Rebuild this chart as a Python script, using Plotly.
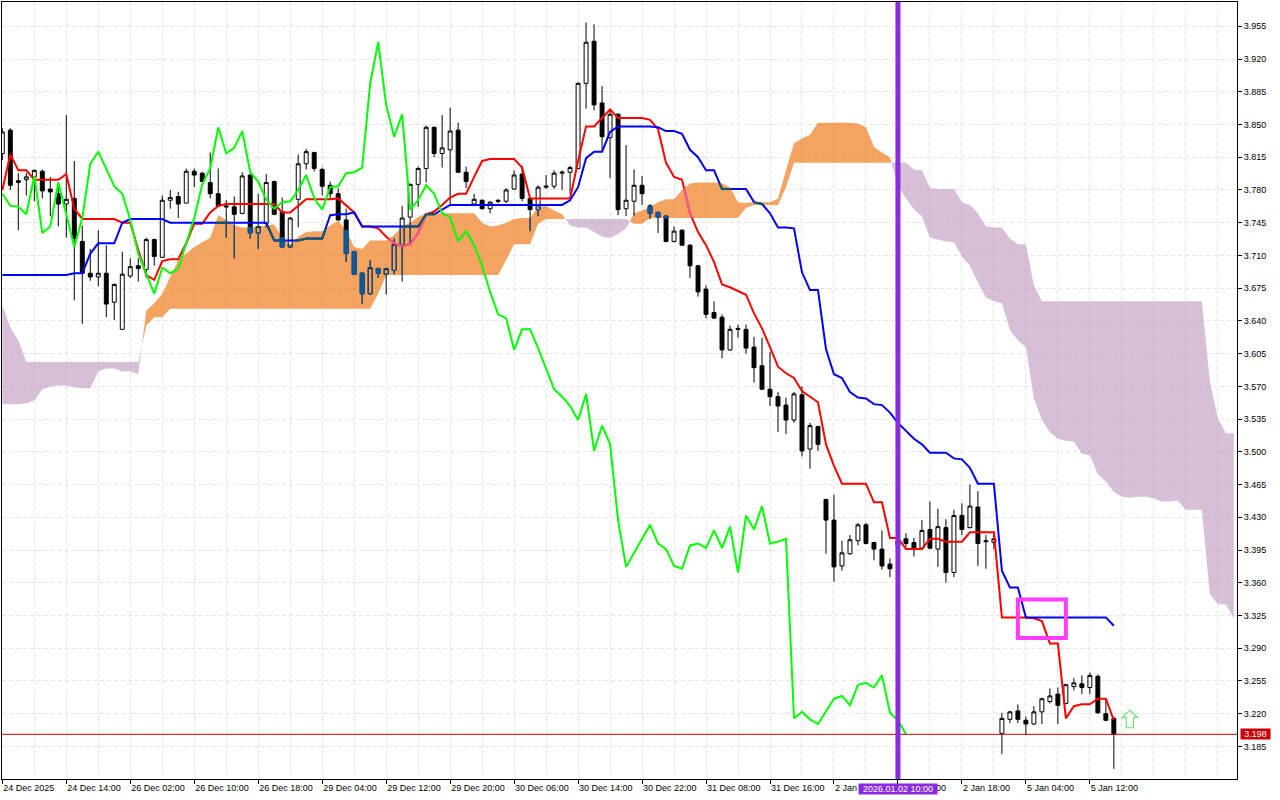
import plotly.graph_objects as go

bar_index = list(range(140))
cloud_index = list(range(155))

opens = [
    3.819,3.844,3.788,3.791,3.794,3.800,3.781,3.776,3.765,3.771,
    3.725,3.691,3.687,3.691,3.660,3.631,3.688,3.699,3.695,3.727,
    3.708,3.769,3.773,3.766,3.800,3.798,3.788,3.776,3.763,3.762,
    3.755,3.796,3.734,3.744,3.789,3.757,3.719,3.770,3.808,3.820,
    3.802,3.785,3.776,3.748,3.714,3.691,3.669,3.696,3.690,3.694,
    3.721,3.751,3.786,3.803,3.847,3.819,3.823,3.844,3.799,3.765,
    3.769,3.760,3.769,3.768,3.781,3.797,3.771,3.759,3.783,3.784,
    3.798,3.799,3.803,3.894,3.939,3.873,3.836,3.861,3.760,3.768,
    3.785,3.763,3.756,3.752,3.725,3.737,3.721,3.699,3.674,3.649,
    3.644,3.609,3.632,3.631,3.612,3.592,3.567,3.559,3.550,3.534,
    3.561,3.503,3.527,3.449,3.427,3.378,3.391,3.405,3.422,3.403,
    3.396,3.380,3.405,3.407,3.403,3.397,3.417,3.396,3.419,3.371,
    3.432,3.419,3.441,3.405,3.403,3.199,3.214,3.223,3.213,3.209,
    3.222,3.233,3.241,3.231,3.249,3.252,3.248,3.260,3.220,3.215,
]
highs = [
    3.846,3.846,3.798,3.798,3.802,3.802,3.794,3.788,3.860,3.811,
    3.742,3.717,3.737,3.721,3.680,3.714,3.707,3.707,3.729,3.728,
    3.774,3.780,3.778,3.803,3.803,3.799,3.820,3.803,3.769,3.773,
    3.799,3.797,3.776,3.797,3.790,3.772,3.751,3.818,3.824,3.821,
    3.804,3.789,3.782,3.760,3.715,3.692,3.705,3.697,3.697,3.728,
    3.763,3.787,3.805,3.849,3.848,3.860,3.868,3.852,3.805,3.776,
    3.770,3.768,3.770,3.782,3.801,3.806,3.772,3.785,3.796,3.801,
    3.801,3.806,3.895,3.959,3.957,3.891,3.865,3.862,3.828,3.802,
    3.795,3.765,3.757,3.753,3.741,3.738,3.722,3.700,3.678,3.661,
    3.647,3.635,3.636,3.636,3.623,3.622,3.607,3.564,3.558,3.564,
    3.570,3.531,3.528,3.450,3.454,3.405,3.411,3.424,3.424,3.404,
    3.416,3.386,3.415,3.413,3.408,3.427,3.447,3.439,3.428,3.438,
    3.445,3.465,3.458,3.411,3.411,3.221,3.223,3.230,3.217,3.228,
    3.237,3.247,3.248,3.252,3.258,3.261,3.264,3.262,3.236,3.217,
]
lows = [
    3.812,3.780,3.737,3.774,3.768,3.771,3.752,3.741,3.729,3.662,
    3.637,3.683,3.677,3.644,3.641,3.631,3.686,3.682,3.686,3.699,
    3.708,3.760,3.750,3.766,3.783,3.789,3.771,3.762,3.729,3.707,
    3.754,3.728,3.717,3.740,3.753,3.718,3.718,3.740,3.802,3.800,
    3.774,3.771,3.747,3.703,3.689,3.658,3.668,3.686,3.668,3.690,
    3.682,3.723,3.762,3.788,3.815,3.804,3.764,3.798,3.782,3.764,
    3.759,3.755,3.766,3.766,3.780,3.768,3.736,3.752,3.781,3.781,
    3.780,3.776,3.802,3.867,3.865,3.823,3.793,3.753,3.752,3.753,
    3.764,3.749,3.734,3.724,3.724,3.720,3.686,3.666,3.643,3.642,
    3.600,3.608,3.622,3.605,3.574,3.566,3.549,3.521,3.519,3.531,
    3.495,3.482,3.501,3.391,3.361,3.373,3.390,3.400,3.401,3.384,
    3.374,3.366,3.395,3.398,3.388,3.396,3.396,3.377,3.360,3.366,
    3.411,3.418,3.378,3.375,3.396,3.177,3.210,3.210,3.197,3.208,
    3.209,3.231,3.209,3.230,3.245,3.241,3.241,3.220,3.212,3.161,
]
closes = [
    3.842,3.785,3.790,3.794,3.801,3.779,3.778,3.765,3.770,3.728,
    3.691,3.687,3.691,3.658,3.679,3.690,3.698,3.696,3.727,3.709,
    3.769,3.772,3.765,3.800,3.796,3.789,3.776,3.763,3.762,3.754,
    3.795,3.734,3.741,3.788,3.754,3.719,3.750,3.808,3.821,3.803,
    3.784,3.776,3.748,3.712,3.690,3.669,3.697,3.691,3.696,3.722,
    3.750,3.786,3.803,3.847,3.819,3.825,3.843,3.799,3.789,3.770,
    3.760,3.767,3.768,3.780,3.796,3.771,3.759,3.783,3.784,3.798,
    3.799,3.804,3.894,3.938,3.871,3.837,3.861,3.759,3.769,3.785,
    3.776,3.755,3.751,3.725,3.736,3.721,3.699,3.671,3.647,3.643,
    3.609,3.631,3.631,3.611,3.590,3.567,3.559,3.549,3.534,3.562,
    3.501,3.528,3.508,3.427,3.377,3.392,3.406,3.422,3.402,3.396,
    3.378,3.375,3.400,3.402,3.397,3.416,3.397,3.420,3.371,3.432,
    3.417,3.442,3.402,3.404,3.407,3.215,3.222,3.214,3.209,3.222,
    3.236,3.239,3.229,3.251,3.253,3.248,3.261,3.221,3.213,3.198,
]
tenkan = [
    3.780,3.818,3.801,3.801,3.791,3.791,3.791,3.791,3.797,3.760,
    3.749,3.749,3.749,3.749,3.749,3.745,3.745,3.716,3.689,3.684,
    3.704,3.706,3.706,3.723,3.744,3.744,3.756,3.763,3.765,3.765,
    3.765,3.765,3.765,3.765,3.765,3.756,3.756,3.763,3.770,3.770,
    3.770,3.770,3.771,3.764,3.756,3.741,3.741,3.739,3.730,3.723,
    3.720,3.722,3.734,3.754,3.757,3.764,3.772,3.776,3.776,3.794,
    3.811,3.813,3.813,3.813,3.813,3.804,3.771,3.771,3.771,3.771,
    3.771,3.771,3.811,3.848,3.848,3.857,3.866,3.857,3.857,3.857,
    3.857,3.855,3.845,3.809,3.794,3.791,3.755,3.735,3.721,3.703,
    3.679,3.676,3.672,3.668,3.648,3.632,3.612,3.591,3.584,3.579,
    3.565,3.559,3.553,3.508,3.485,3.466,3.466,3.466,3.466,3.446,
    3.446,3.408,3.408,3.396,3.396,3.396,3.407,3.407,3.404,3.404,
    3.404,3.414,3.414,3.414,3.414,3.323,3.323,3.323,3.323,3.322,
    3.319,3.295,3.295,3.215,3.228,3.230,3.230,3.236,3.236,3.213,
]
kijun = [
    3.689,3.689,3.689,3.689,3.689,3.689,3.689,3.689,3.689,3.691,
    3.691,3.712,3.723,3.723,3.723,3.745,3.749,3.749,3.749,3.749,
    3.749,3.745,3.745,3.745,3.745,3.745,3.745,3.745,3.745,3.745,
    3.745,3.745,3.745,3.745,3.726,3.726,3.726,3.726,3.728,3.728,
    3.728,3.753,3.754,3.754,3.756,3.741,3.741,3.741,3.741,3.741,
    3.741,3.741,3.741,3.754,3.754,3.759,3.764,3.764,3.764,3.764,
    3.764,3.764,3.764,3.764,3.764,3.764,3.764,3.764,3.764,3.764,
    3.764,3.769,3.783,3.814,3.821,3.821,3.842,3.848,3.848,3.848,
    3.848,3.848,3.847,3.843,3.843,3.840,3.823,3.815,3.801,3.801,
    3.781,3.781,3.781,3.781,3.767,3.765,3.755,3.740,3.740,3.739,
    3.692,3.673,3.673,3.610,3.583,3.579,3.564,3.558,3.557,3.551,
    3.550,3.542,3.531,3.523,3.514,3.508,3.499,3.499,3.499,3.493,
    3.492,3.483,3.466,3.466,3.466,3.373,3.355,3.355,3.323,3.323,
    3.323,3.323,3.323,3.323,3.323,3.323,3.323,3.323,3.323,3.314,
]
chikou = [
    3.776,3.763,3.762,3.754,
    3.795,3.734,3.741,3.788,3.754,3.719,3.750,3.808,3.821,3.803,
    3.784,3.776,3.748,3.712,3.690,3.669,3.697,3.691,3.696,3.722,
    3.750,3.786,3.803,3.847,3.819,3.825,3.843,3.799,3.789,3.770,
    3.760,3.767,3.768,3.780,3.796,3.771,3.759,3.783,3.784,3.798,
    3.799,3.804,3.894,3.938,3.871,3.837,3.861,3.759,3.769,3.785,
    3.776,3.755,3.751,3.725,3.736,3.721,3.699,3.671,3.647,3.643,
    3.609,3.631,3.631,3.611,3.590,3.567,3.559,3.549,3.534,3.562,
    3.501,3.528,3.508,3.427,3.377,3.392,3.406,3.422,3.402,3.396,
    3.378,3.375,3.400,3.402,3.397,3.416,3.397,3.420,3.371,3.432,
    3.417,3.442,3.402,3.404,3.407,3.215,3.222,3.214,3.209,3.222,
    3.236,3.239,3.229,3.251,3.253,3.248,3.261,3.221,3.213,3.198,
]
senkou_a = [
    3.551,3.551,3.551,3.552,3.555,3.567,3.570,3.571,3.571,3.569,
    3.568,3.568,3.586,3.589,3.589,3.586,3.586,3.583,3.651,3.659,
    3.669,3.687,3.705,3.712,3.719,3.724,3.729,3.753,3.748,3.742,
    3.740,3.740,3.741,3.742,3.743,3.729,3.721,3.730,3.735,3.736,
    3.736,3.742,3.747,3.737,3.719,3.717,3.726,3.726,3.726,3.732,
    3.741,3.745,3.751,3.755,3.755,3.755,3.755,3.755,3.755,3.755,
    3.745,3.741,3.742,3.745,3.749,3.750,3.750,3.762,3.763,3.758,
    3.754,3.742,3.740,3.740,3.735,3.730,3.729,3.733,3.739,3.755,
    3.758,3.762,3.767,3.770,3.770,3.780,3.787,3.788,3.788,3.788,
    3.787,3.783,3.767,3.766,3.767,3.767,3.767,3.771,3.801,3.830,
    3.835,3.839,3.852,3.852,3.852,3.852,3.852,3.851,3.847,3.826,
    3.820,3.815,3.785,3.771,3.759,3.752,3.729,3.727,3.725,3.724,
    3.709,3.699,3.681,3.665,3.661,3.659,3.630,3.619,3.612,3.557,
    3.534,3.521,3.514,3.512,3.511,3.498,3.496,3.476,3.468,3.457,
    3.452,3.451,3.452,3.452,3.450,3.447,3.447,3.448,3.438,3.438,
    3.438,3.348,3.337,3.337,3.322,
]
senkou_b = [
    3.657,3.633,3.619,3.596,3.596,3.596,3.596,3.596,3.596,3.596,
    3.596,3.596,3.596,3.596,3.596,3.596,3.596,3.596,3.635,3.644,
    3.644,3.653,3.653,3.653,3.653,3.653,3.653,3.653,3.653,3.653,
    3.653,3.653,3.653,3.653,3.653,3.653,3.653,3.653,3.653,3.653,
    3.653,3.653,3.653,3.653,3.653,3.653,3.653,3.669,3.689,3.689,
    3.689,3.689,3.689,3.689,3.689,3.689,3.689,3.689,3.689,3.689,
    3.689,3.689,3.689,3.705,3.722,3.722,3.722,3.744,3.749,3.749,
    3.749,3.749,3.749,3.749,3.749,3.749,3.749,3.749,3.749,3.744,
    3.744,3.750,3.750,3.750,3.750,3.750,3.750,3.750,3.750,3.750,
    3.750,3.750,3.750,3.761,3.764,3.764,3.764,3.764,3.783,3.809,
    3.809,3.809,3.809,3.809,3.809,3.809,3.809,3.809,3.809,3.809,
    3.809,3.809,3.809,3.809,3.802,3.801,3.782,3.781,3.781,3.781,
    3.767,3.764,3.755,3.741,3.740,3.740,3.728,3.722,3.722,3.678,
    3.661,3.661,3.661,3.661,3.661,3.661,3.661,3.661,3.661,3.661,
    3.661,3.661,3.661,3.661,3.661,3.661,3.661,3.661,3.661,3.661,
    3.661,3.576,3.536,3.520,3.520,
]
price_ticks = [
    3.955,3.920,3.885,3.850,3.815,3.780,3.745,3.710,3.675,3.640,3.605,3.570,
    3.535,3.500,3.465,3.430,3.395,3.360,3.325,3.290,3.255,3.220,3.185,
]
time_tick_bars = [0,8,16,24,32,40,48,56,64,72,80,88,96,104,112,120,128,136]
time_tick_labels = [
    "24 Dec 2025","24 Dec 14:00","26 Dec 02:00","26 Dec 10:00","26 Dec 18:00",
    "29 Dec 04:00","29 Dec 12:00","29 Dec 20:00","30 Dec 06:00","30 Dec 14:00",
    "30 Dec 22:00","31 Dec 08:00","31 Dec 16:00","2 Jan 02:00","2 Jan 10:00",
    "2 Jan 18:00","5 Jan 04:00","5 Jan 12:00",
]
last_price = 3.198
marked_bar = 112
marked_label = "2026.01.02 10:00"
box_bars = [127, 133]
box_prices = [3.301, 3.342]
arrow_bar = 141
arrow_prices = [3.205, 3.216, 3.224]

for arr, n in [(opens,140),(highs,140),(lows,140),(closes,140),(tenkan,140),(kijun,140),(chikou,114),(senkou_a,155),(senkou_b,155)]:
    assert len(arr) == n, (n, len(arr))

ORANGE = "rgba(239,125,28,0.7)"
THISTLE = "rgba(190,148,190,0.6)"
INV_BLACK = "#0B5BA0"
INV_BLUE = "#0B5B60"
INV_RED = "#F45B9F"
FONT = "Liberation Sans"

# ---- cloud polygons, with the crossing points of the two spans worked out
xs, sa, sb = [], [], []
for i in range(len(cloud_index)):
    xs.append(cloud_index[i]); sa.append(senkou_a[i]); sb.append(senkou_b[i])
    if i + 1 < len(cloud_index):
        d0 = senkou_a[i] - senkou_b[i]
        d1 = senkou_a[i + 1] - senkou_b[i + 1]
        if d0 * d1 < 0:
            t = d0 / (d0 - d1)
            xs.append(cloud_index[i] + t)
            v = senkou_a[i] + t * (senkou_a[i + 1] - senkou_a[i])
            sa.append(v); sb.append(v)


def band_path(lower, upper):
    pts = list(zip(xs, upper)) + list(zip(xs[::-1], lower[::-1]))
    return "M" + " L".join(f"{x:.4f},{y:.5f}" for x, y in pts) + " Z"


tops = [max(p, q) for p, q in zip(sa, sb)]
shapes = [
    dict(type="path", path=band_path(sb, tops), fillcolor=ORANGE, line_width=0, layer="between", xref="x", yref="y"),
    dict(type="path", path=band_path(sa, tops), fillcolor=THISTLE, line_width=0, layer="between", xref="x", yref="y"),
]


def in_orange(series):
    """Parts of a line that lie inside the orange cloud."""
    out_x, out_y = [], []
    for k in range(len(series) - 1):
        y0, y1 = series[k], series[k + 1]
        hi0, hi1 = max(senkou_a[k], senkou_b[k]), max(senkou_a[k + 1], senkou_b[k + 1])
        lo0, lo1 = senkou_b[k], senkou_b[k + 1]
        t0, t1 = 0.0, 1.0
        for g0, g1 in ((hi0 - y0, hi1 - y1), (y0 - lo0, y1 - lo1)):
            if g0 < 0 and g1 < 0:
                t0, t1 = 1.0, 0.0
            elif g0 < 0:
                t0 = max(t0, g0 / (g0 - g1))
            elif g1 < 0:
                t1 = min(t1, g0 / (g0 - g1))
        if t1 > t0:
            out_x += [k + t0, k + t1, None]
            out_y += [y0 + t0 * (y1 - y0), y0 + t1 * (y1 - y0), None]
    return out_x, out_y


# ---- candle parts covered by the cloud
wx, wy, fx, fy, ox, oy = [], [], [], [], [], []
HALF = 0.25
for k in bar_index:
    hi, lo = senkou_a[k], senkou_b[k]
    if hi <= lo:
        continue
    b_top, b_bot = max(opens[k], closes[k]), min(opens[k], closes[k])
    for seg_top, seg_bot in ((highs[k], b_top), (b_bot, lows[k])):
        t, b = min(seg_top, hi), max(seg_bot, lo)
        if t > b:
            wx += [k, k, None]
            wy += [b, t, None]
    t, b = min(b_top, hi), max(b_bot, lo)
    if t > b:
        rx = [k - HALF, k + HALF, k + HALF, k - HALF, k - HALF, None]
        ry = [b, b, t, t, b, None]
        if closes[k] < opens[k]:
            fx += rx; fy += ry
        else:
            ox += rx; oy += ry

fig = go.Figure()
fig.add_trace(go.Candlestick(
    x=bar_index, open=opens, high=highs, low=lows, close=closes,
    whiskerwidth=0,
    increasing=dict(line=dict(color="#000000", width=1), fillcolor="rgba(0,0,0,0)"),
    decreasing=dict(line=dict(color="#000000", width=1), fillcolor="#000000"),
    showlegend=False, hoverinfo="skip",
))
fig.add_trace(go.Scatter(x=wx, y=wy, mode="lines", line=dict(color=INV_BLACK, width=1), showlegend=False, hoverinfo="skip"))
fig.add_trace(go.Scatter(x=fx, y=fy, mode="lines", fill="toself", fillcolor=INV_BLACK, line=dict(color=INV_BLACK, width=1), showlegend=False, hoverinfo="skip"))
fig.add_trace(go.Scatter(x=ox, y=oy, mode="lines", line=dict(color=INV_BLACK, width=1), showlegend=False, hoverinfo="skip"))

fig.add_trace(go.Scatter(x=bar_index, y=tenkan, mode="lines", line=dict(color="#FF0000", width=2), showlegend=False, hoverinfo="skip"))
fig.add_trace(go.Scatter(x=bar_index, y=kijun, mode="lines", line=dict(color="#0000FF", width=2), showlegend=False, hoverinfo="skip"))
px, py = in_orange(tenkan)
fig.add_trace(go.Scatter(x=px, y=py, mode="lines", line=dict(color=INV_RED, width=2), showlegend=False, hoverinfo="skip"))
px, py = in_orange(kijun)
fig.add_trace(go.Scatter(x=px, y=py, mode="lines", line=dict(color=INV_BLUE, width=2), showlegend=False, hoverinfo="skip"))
fig.add_trace(go.Scatter(x=bar_index[:len(chikou)], y=chikou, mode="lines", line=dict(color="#00FF00", width=2), showlegend=False, hoverinfo="skip"))

shapes += [
    dict(type="line", xref="paper", x0=0, x1=1, yref="y", y0=last_price, y1=last_price,
         line=dict(color="#D00000", width=1), layer="above"),
    dict(type="line", xref="x", x0=marked_bar, x1=marked_bar, yref="paper", y0=0, y1=1,
         line=dict(color="#8A2BE2", width=5), layer="above"),
    dict(type="rect", xref="x", x0=box_bars[0], x1=box_bars[1], yref="y", y0=box_prices[0], y1=box_prices[1],
         line=dict(color="#FF3CFF", width=4), layer="above"),
    dict(type="path", xref="x", yref="y", layer="above", line=dict(color="#6FE36F", width=1.2), fillcolor="rgba(255,255,255,0)",
         path=(f"M{arrow_bar},{arrow_prices[2]} L{arrow_bar+0.95},{arrow_prices[1]} L{arrow_bar+0.45},{arrow_prices[1]} "
               f"L{arrow_bar+0.45},{arrow_prices[0]} L{arrow_bar-0.45},{arrow_prices[0]} L{arrow_bar-0.45},{arrow_prices[1]} "
               f"L{arrow_bar-0.95},{arrow_prices[1]} Z")),
]

annotations = [
    dict(xref="paper", x=1, xshift=3, xanchor="left", yref="y", y=last_price, yanchor="middle",
         text="3.198", showarrow=False, bgcolor="#CC0000", borderpad=0,
         font=dict(family=FONT, size=9, color="#FFFFFF"), width=29, align="center"),
    dict(xref="x", x=marked_bar, xanchor="center", yref="paper", y=0, yshift=-4, yanchor="top",
         text=marked_label, showarrow=False, bgcolor="#8A2BE2", borderpad=0,
         font=dict(family=FONT, size=9, color="#FFFFFF"), width=78, align="center"),
]

GRID = "#E4E4E4"
fig.update_layout(
    width=1280, height=800,
    margin=dict(l=2, r=42.7, t=2, b=20.7, pad=0, autoexpand=False),
    paper_bgcolor="#FFFFFF", plot_bgcolor="#FFFFFF",
    showlegend=False, shapes=shapes, annotations=annotations,
    font=dict(family=FONT, size=9, color="#000000"),
    xaxis=dict(
        range=[-0.04, 154.4], rangeslider=dict(visible=False),
        tickmode="array", tickvals=time_tick_bars, ticktext=time_tick_labels,
        ticks="outside", ticklen=4, tickwidth=1, tickcolor="#000000",
        ticklabelposition="outside right", tickangle=0,
        showgrid=True, gridcolor=GRID, griddash="4px,3px", gridwidth=1,
        minor=dict(dtick=4, tick0=0, showgrid=True, gridcolor=GRID, griddash="4px,3px", gridwidth=1, ticks=""),
        showline=True, linecolor="#000000", linewidth=1, mirror=True, zeroline=False,
        tickfont=dict(family=FONT, size=9, color="#000000"),
    ),
    yaxis=dict(
        range=[3.1502, 3.981], side="right",
        tickmode="array", tickvals=price_ticks, ticktext=[f"{v:.3f}" for v in price_ticks],
        ticks="outside", ticklen=4, tickwidth=1, tickcolor="#000000",
        showgrid=True, gridcolor=GRID, griddash="4px,3px", gridwidth=1,
        showline=True, linecolor="#000000", linewidth=1, mirror=True, zeroline=False,
        tickfont=dict(family=FONT, size=9, color="#000000"),
    ),
)

fig.write_html("out.html", post_script="document.body.style.margin='0';",
               config={"displayModeBar": False})
